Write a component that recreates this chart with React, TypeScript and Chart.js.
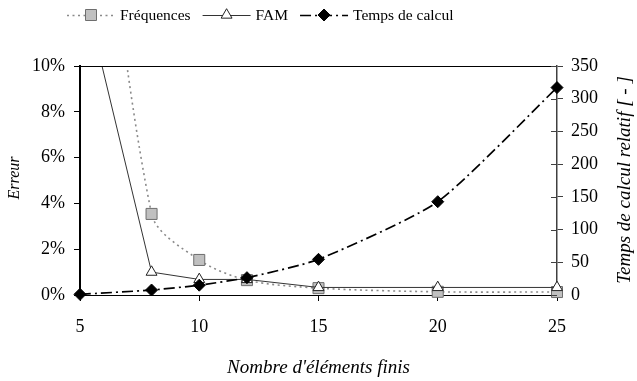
import React, { useEffect, useRef } from 'react';
import { Chart, registerables } from 'chart.js';

Chart.register(...registerables);

// ---- Data ----
const elements = [5, 8, 10, 12, 15, 20, 25];
const frequences = [0.27, 0.0354, 0.0153, 0.0065, 0.003, 0.0014, 0.0013];
const fam = [0.14, 0.01, 0.0068, 0.0068, 0.0033, 0.0033, 0.0033];
const tempsCalcul = [1, 7.6, 15, 26.5, 54.5, 142.6, 317];

const xTicks = [5, 10, 15, 20, 25];
const errorTicks = [0, 0.02, 0.04, 0.06, 0.08, 0.1];
const timeTicks = [0, 50, 100, 150, 200, 250, 300, 350];

const seriesNames = ['Fréquences', 'FAM', 'Temps de calcul'];
const xTitle = "Nombre d'éléments finis";
const yTitle = 'Erreur';
const y2Title = 'Temps de calcul relatif [ - ]';

const FONT = '"Liberation Serif", "Times New Roman", serif';

const pts = (ys: number[]) => elements.map((x, i) => ({ x, y: ys[i] }));

function drawMarker(ctx: CanvasRenderingContext2D, kind: string, cx: number, cy: number) {
  ctx.save();
  ctx.setLineDash([]);
  ctx.beginPath();
  if (kind === 'rect') {
    const s = 5.5;
    ctx.rect(cx - s, cy - s, 2 * s, 2 * s);
    ctx.fillStyle = '#c0c0c0';
    ctx.strokeStyle = '#6e6e6e';
    ctx.lineWidth = 1;
  } else if (kind === 'triangle') {
    const r = 6.3;
    ctx.moveTo(cx, cy - r);
    ctx.lineTo(cx + r * 0.866, cy + r * 0.5);
    ctx.lineTo(cx - r * 0.866, cy + r * 0.5);
    ctx.closePath();
    ctx.fillStyle = '#ffffff';
    ctx.strokeStyle = '#222222';
    ctx.lineWidth = 1;
  } else {
    const r = 6;
    ctx.moveTo(cx, cy - r);
    ctx.lineTo(cx + r, cy);
    ctx.lineTo(cx, cy + r);
    ctx.lineTo(cx - r, cy);
    ctx.closePath();
    ctx.fillStyle = '#000000';
    ctx.strokeStyle = '#000000';
    ctx.lineWidth = 1;
  }
  ctx.fill();
  ctx.stroke();
  ctx.restore();
}

const decorPlugin = {
  id: 'decor',
  afterDraw(chart: any) {
    const ctx: CanvasRenderingContext2D = chart.ctx;
    const { left, right, top } = chart.chartArea;
    ctx.save();

    // top border of plot area
    ctx.strokeStyle = '#000';
    ctx.lineWidth = 1;
    ctx.setLineDash([]);
    ctx.beginPath();
    ctx.moveTo(left, top + 0.5);
    ctx.lineTo(right, top + 0.5);
    ctx.stroke();

    // inner tick marks on right axis
    const y2 = chart.scales.y2;
    ctx.strokeStyle = '#404040';
    ctx.beginPath();
    y2.ticks.forEach((t: any) => {
      const py = Math.round(y2.getPixelForValue(t.value)) + 0.5;
      ctx.moveTo(right - 6, py);
      ctx.lineTo(right, py);
    });
    ctx.stroke();

    // vertical axis titles
    ctx.fillStyle = '#000';
    ctx.textAlign = 'center';
    ctx.textBaseline = 'middle';
    ctx.save();
    ctx.font = `italic 16px ${FONT}`;
    ctx.translate(15, 178);
    ctx.rotate(-Math.PI / 2);
    ctx.fillText(yTitle, 0, 0);
    ctx.restore();
    ctx.save();
    ctx.font = `italic 19px ${FONT}`;
    ctx.translate(625, 180);
    ctx.rotate(-Math.PI / 2);
    ctx.fillText(y2Title, 0, 0);
    ctx.restore();

    // legend
    const datasets = chart.data.datasets;
    const kinds = ['rect', 'triangle', 'rectRot'];
    ctx.font = `15.5px ${FONT}`;
    ctx.textAlign = 'left';
    let x0 = 67;
    const ly = 15;
    datasets.forEach((ds: any, i: number) => {
      ctx.save();
      ctx.strokeStyle = ds.borderColor;
      ctx.lineWidth = ds.borderWidth;
      ctx.setLineDash(ds.borderDash || []);
      ctx.beginPath();
      ctx.moveTo(x0, ly + 0.5);
      ctx.lineTo(x0 + 48, ly + 0.5);
      ctx.stroke();
      ctx.restore();
      drawMarker(ctx, kinds[i], x0 + 24, ly);
      ctx.fillStyle = '#000';
      ctx.fillText(ds.label, x0 + 53, ly + 1);
      x0 += 53 + ctx.measureText(ds.label).width + 12;
    });

    ctx.restore();
  },
};

export default function App() {
  const ref = useRef<HTMLCanvasElement | null>(null);

  useEffect(() => {
    if (!ref.current) return;
    const clip = { left: 10, right: 10, top: 0, bottom: 10 };
    const chart = new Chart(ref.current, {
      type: 'line',
      data: {
        datasets: [
          {
            label: seriesNames[0],
            data: pts(frequences),
            yAxisID: 'y',
            borderColor: '#8a8a8a',
            borderWidth: 1.6,
            borderDash: [2, 3.5],
            pointStyle: 'rect',
            pointRadius: 7.8,
            pointBackgroundColor: '#c0c0c0',
            pointBorderColor: '#6e6e6e',
            pointBorderWidth: 1,
            tension: 0.3,
            clip,
            order: 2,
          } as any,
          {
            label: seriesNames[1],
            data: pts(fam),
            yAxisID: 'y',
            borderColor: '#333333',
            borderWidth: 1,
            pointStyle: 'triangle',
            pointRadius: 6.3,
            pointBackgroundColor: '#ffffff',
            pointBorderColor: '#222222',
            pointBorderWidth: 1,
            tension: 0,
            clip,
            order: 1,
          } as any,
          {
            label: seriesNames[2],
            data: pts(tempsCalcul),
            yAxisID: 'y2',
            borderColor: '#000000',
            borderWidth: 1.7,
            borderDash: [11, 4, 2, 4],
            pointStyle: 'rectRot',
            pointRadius: 6,
            pointBackgroundColor: '#000000',
            pointBorderColor: '#000000',
            pointBorderWidth: 1,
            tension: 0.2,
            clip,
            order: 0,
          } as any,
        ],
      },
      options: {
        responsive: false,
        animation: false,
        layout: { padding: { top: 66, left: 0, right: 0, bottom: 0 } },
        plugins: {
          legend: { display: false },
          tooltip: { enabled: false },
        },
        scales: {
          x: {
            type: 'linear',
            position: 'bottom',
            min: 5,
            max: 25,
            afterBuildTicks: (s: any) => {
              s.ticks = xTicks.map((v) => ({ value: v }));
            },
            afterFit: (s: any) => {
              s.height = 86;
            },
            grid: {
              drawOnChartArea: false,
              drawTicks: true,
              tickLength: 6,
              tickColor: '#000',
            },
            border: { display: true, color: '#000', width: 1 },
            ticks: {
              color: '#000',
              padding: 15,
              maxRotation: 0,
              font: { family: FONT, size: 18 },
              callback: (v: any) => String(v),
            },
            title: {
              display: true,
              text: xTitle,
              color: '#000',
              font: { family: FONT, size: 19, style: 'italic' },
              padding: { top: 0, bottom: 1.6 },
            },
          },
          y: {
            type: 'linear',
            position: 'left',
            min: 0,
            max: 0.1,
            afterBuildTicks: (s: any) => {
              s.ticks = errorTicks.map((v) => ({ value: v }));
            },
            afterFit: (s: any) => {
              s.width = 80;
            },
            grid: {
              drawOnChartArea: false,
              drawTicks: true,
              tickLength: 6,
              tickColor: '#000',
            },
            border: { display: true, color: '#000', width: 2 },
            ticks: {
              color: '#000',
              padding: 9,
              font: { family: FONT, size: 18 },
              callback: (v: any) => `${Math.round(Number(v) * 100)}%`,
            },
          },
          y2: {
            type: 'linear',
            position: 'right',
            min: 0,
            max: 350,
            afterBuildTicks: (s: any) => {
              s.ticks = timeTicks.map((v) => ({ value: v }));
            },
            afterFit: (s: any) => {
              s.width = 80;
            },
            grid: {
              drawOnChartArea: false,
              drawTicks: true,
              tickLength: 6,
              tickColor: '#404040',
            },
            border: { display: true, color: '#404040', width: 1.5 },
            ticks: {
              color: '#000',
              padding: 8,
              font: { family: FONT, size: 18 },
              callback: (v: any) => String(v),
            },
          },
        },
      },
      plugins: [decorPlugin],
    });
    return () => chart.destroy();
  }, []);

  return (
    <div style={{ position: 'absolute', left: 0, top: 0, width: 637, height: 381, background: '#fff' }}>
      <canvas ref={ref} width={637} height={381} style={{ display: 'block' }} />
    </div>
  );
}
